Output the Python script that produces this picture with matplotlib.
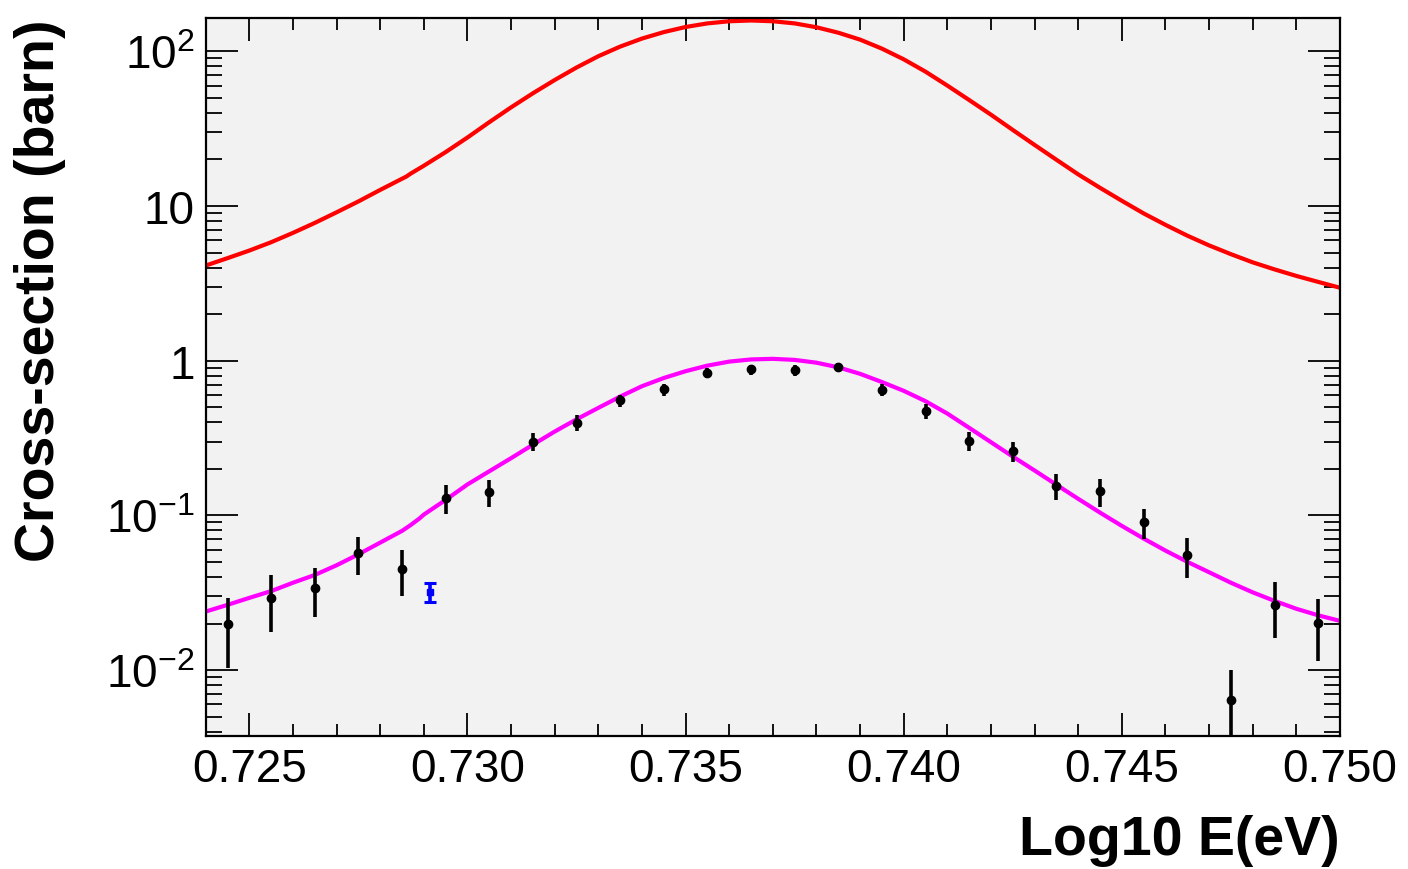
import matplotlib

matplotlib.use("Agg")
import matplotlib.pyplot as plt
from matplotlib.ticker import (FixedLocator, FormatStrFormatter, LogLocator,
                               MultipleLocator, NullFormatter)

# points mesures (centres de bins)
data_x = [0.7245, 0.7255, 0.7265, 0.7275, 0.7285, 0.7295, 0.7305, 0.7315,
          0.7325, 0.7335, 0.7345, 0.7355, 0.7365, 0.7375, 0.7385, 0.7395,
          0.7405, 0.7415, 0.7425, 0.7435, 0.7445, 0.7455, 0.7465, 0.7475,
          0.7485, 0.7495]
data_y = [0.0198, 0.0292, 0.0338, 0.0569, 0.0450, 0.130, 0.142, 0.300,
          0.398, 0.554, 0.652, 0.833, 0.879, 0.866, 0.911, 0.650,
          0.471, 0.303, 0.261, 0.156, 0.143, 0.090, 0.0552, 0.0064,
          0.0265, 0.0201]
data_err = [0.0095, 0.0117, 0.0116, 0.0158, 0.0147, 0.028, 0.028, 0.040,
            0.047, 0.050, 0.060, 0.065, 0.065, 0.065, 0.055, 0.060,
            0.052, 0.041, 0.039, 0.030, 0.029, 0.020, 0.016, 0.0036,
            0.0104, 0.0087]

# point isole (bleu)
blue_x = [0.72913]
blue_y = [0.0322]
blue_err = [0.0046]

# courbe rouge
red_x = [0.724, 0.7245, 0.725, 0.7255, 0.726, 0.7265, 0.727, 0.7275, 0.728,
         0.7285, 0.7286, 0.7287, 0.729, 0.7295, 0.730, 0.7305, 0.731, 0.7315,
         0.732, 0.7325, 0.733, 0.7335, 0.734, 0.7345, 0.735, 0.7355, 0.736,
         0.7365, 0.737, 0.7375, 0.738, 0.7385, 0.739, 0.7395, 0.740, 0.7405,
         0.741, 0.7415, 0.742, 0.7425, 0.743, 0.7435, 0.744, 0.7445, 0.745,
         0.7455, 0.746, 0.7465, 0.747, 0.7475, 0.748, 0.7485, 0.749, 0.7495,
         0.750]
red_y = [4.12, 4.60, 5.15, 5.83, 6.70, 7.77, 9.10, 10.7, 12.7,
         15.0, 15.5, 16.2, 18.2, 22.3, 27.7, 34.8, 43.4, 53.5,
         65.2, 78.5, 92.9, 107.2, 120.8, 133.0, 143.5, 151.4, 156.3,
         158.1, 156.3, 151.4, 142.9, 131.8, 118.9, 104.0, 88.7, 73.8,
         60.0, 48.4, 38.9, 31.0, 24.8, 19.9, 16.0, 13.1, 10.8,
         8.95, 7.55, 6.43, 5.56, 4.88, 4.32, 3.89, 3.53, 3.23,
         2.96]

# courbe magenta
mag_x = [0.724, 0.7245, 0.725, 0.7255, 0.726, 0.7265, 0.727, 0.7275, 0.728,
         0.7285, 0.7287, 0.7289, 0.729, 0.7295, 0.730, 0.7305, 0.731, 0.7315,
         0.732, 0.7325, 0.733, 0.7335, 0.734, 0.7345, 0.735, 0.7355, 0.736,
         0.7365, 0.737, 0.7375, 0.738, 0.7385, 0.739, 0.7395, 0.740, 0.7405,
         0.741, 0.7415, 0.742, 0.7425, 0.743, 0.7435, 0.744, 0.7445, 0.745,
         0.7455, 0.746, 0.7465, 0.747, 0.7475, 0.748, 0.7485, 0.749, 0.7495,
         0.750]
mag_y = [0.0239, 0.0264, 0.0293, 0.0324, 0.0367, 0.0412, 0.0476, 0.0560,
         0.0667, 0.0794, 0.0867, 0.0955, 0.1012, 0.1259, 0.1585, 0.1928,
         0.2344, 0.2864, 0.3483, 0.4178, 0.4955, 0.5861, 0.6839, 0.7727,
         0.8551, 0.9290, 0.9863, 1.0186, 1.0280, 1.0116, 0.9705, 0.9057,
         0.8222, 0.7278, 0.6383, 0.5470, 0.4550, 0.3681, 0.2972, 0.2399,
         0.1950, 0.1578, 0.1279, 0.1042, 0.0855, 0.0708, 0.0592, 0.0501,
         0.0429, 0.0367, 0.0318, 0.0280, 0.0249, 0.0226, 0.0208]

y_ticks = [0.01, 0.1, 1, 10, 100]
y_tick_labels = ["$10^{-2}$", "$10^{-1}$", "1", "10", "$10^{2}$"]

plt.rcParams["font.family"] = ["Liberation Sans", "DejaVu Sans"]
plt.rcParams["mathtext.fontset"] = "custom"
plt.rcParams["mathtext.rm"] = "Liberation Sans"
plt.rcParams["mathtext.it"] = "Liberation Sans:italic"
plt.rcParams["mathtext.bf"] = "Liberation Sans:bold"

W, H = 1408, 870
fig = plt.figure(figsize=(W / 100, H / 100), dpi=100)
x0, x1, y0, y1 = 205.7, 1340, 19, 737
ax = fig.add_axes([x0 / W, 1 - y1 / H, (x1 - x0) / W, (y1 - y0) / H])
ax.set_facecolor("#f2f2f2")

ax.plot(red_x, red_y, color="#ff0000", lw=3.0, solid_joinstyle="round")
ax.plot(mag_x, mag_y, color="#ff00ff", lw=3.0, solid_joinstyle="round")
ax.errorbar(data_x, data_y, yerr=data_err, fmt="o", color="black", ms=6,
            elinewidth=2.6, capsize=0)
ax.errorbar(blue_x, blue_y, yerr=blue_err, fmt="s", color="#0000ff",
            ms=5, elinewidth=2.6, capsize=4, capthick=2.2)

ax.set_yscale("log")
ax.set_xlim(0.724, 0.750)
ax.set_ylim(10 ** -2.426, 10 ** 2.215)

ax.xaxis.set_major_locator(MultipleLocator(0.005))
ax.xaxis.set_minor_locator(MultipleLocator(0.001))
ax.xaxis.set_major_formatter(FormatStrFormatter("%.3f"))
ax.yaxis.set_major_locator(FixedLocator(y_ticks))
ax.set_yticklabels(y_tick_labels)
ax.yaxis.set_minor_locator(LogLocator(base=10, subs=range(2, 10)))
ax.yaxis.set_minor_formatter(NullFormatter())

ax.tick_params(which="both", direction="in", top=True, right=True,
               width=1.3, labelsize=33, pad=8)
ax.tick_params(axis="x", which="major", length=16.5)
ax.tick_params(axis="x", which="minor", length=8.5)
ax.tick_params(axis="y", which="major", length=23)
ax.tick_params(axis="y", which="minor", length=11.5)
for s in ax.spines.values():
    s.set_linewidth(1.6)

ax.set_ylabel("Cross-section (barn)", fontsize=40, fontweight="bold",
              loc="top")
ax.yaxis.set_label_coords(-0.123, 1.0)
ax.set_xlabel("Log10 E(eV)", fontsize=40, fontweight="bold", loc="right")
ax.xaxis.set_label_coords(1.0, -0.108)

fig.savefig("out.png", dpi=100)
